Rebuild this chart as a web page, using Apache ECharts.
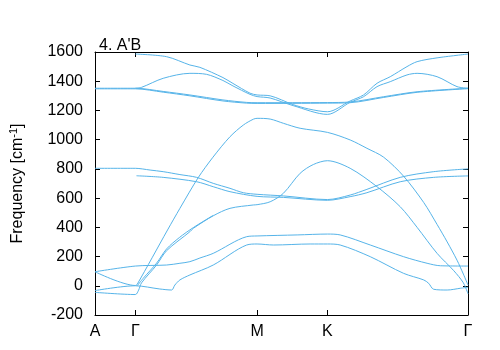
<!DOCTYPE html>
<html>
<head>
<meta charset="utf-8">
<script src="https://cdn.jsdelivr.net/npm/echarts@6/dist/echarts.min.js"></script>
<style>html,body{margin:0;padding:0;background:#fff}#c{width:500px;height:350px}</style>
</head>
<body>
<div id="c"></div>
<script>
// high-symmetry points along the path
const tickPos = [0, 0.287, 1.153, 1.653, 2.653];
const tickLabels = ['A', 'Γ', 'M', 'K', 'Γ'];
const yTicks = [-200, 1600, 200];

// bands: [path coordinate, frequency cm^-1]
const bandH1 = [[0.287,1586],[0.509,1568],[0.675,1511],[0.746,1495],[0.910,1425],[0.981,1385],[1.103,1318],[1.153,1306],[1.246,1300],[1.409,1240],[1.520,1210],[1.653,1191],[1.815,1265],[1.910,1306],[2.006,1386],[2.100,1431],[2.219,1500],[2.291,1534],[2.433,1560],[2.653,1586]];
const bandH2 = [[0.287,1352],[0.331,1358],[0.485,1420],[0.675,1454],[0.794,1447],[0.910,1405],[0.981,1368],[1.103,1310],[1.153,1295],[1.246,1285],[1.409,1233],[1.653,1173],[1.815,1256],[1.910,1294],[2.006,1363],[2.100,1397],[2.219,1443],[2.291,1454],[2.433,1431],[2.575,1363],[2.653,1352]];
const bandH3 = [[0,1352],[0.287,1352],[0.485,1330],[0.675,1306],[0.910,1272],[1.079,1255],[1.153,1253],[1.653,1254],[1.815,1258],[2.053,1294],[2.291,1328],[2.653,1352]];
const bandH4 = [[0,1348],[0.287,1348],[0.485,1325],[0.675,1300],[0.910,1265],[1.079,1250],[1.153,1248],[1.653,1250],[1.815,1253],[2.053,1289],[2.291,1324],[2.653,1349]];
const bandM1 = [[0,804],[0.287,804],[0.392,792],[0.485,781],[0.604,761],[0.723,742],[0.841,701],[0.960,667],[1.055,637],[1.153,626],[1.340,615],[1.653,590],[1.815,621],[1.934,660],[2.171,742],[2.409,781],[2.653,800]];
const bandM2 = [[0.295,753],[0.485,742],[0.723,712],[0.841,678],[0.960,644],[1.153,612],[1.340,605],[1.653,585],[1.815,610],[1.934,637],[2.171,712],[2.409,742],[2.653,752]];
const bandL1 = [[0,96],[0.287,2],[0.300,10],[0.516,382],[0.604,530],[0.734,740],[0.839,880],[0.960,1020],[1.055,1100],[1.126,1140],[1.153,1146],[1.246,1141],[1.340,1112],[1.459,1078],[1.653,1050],[1.815,998],[1.934,941],[2.053,880],[2.195,750],[2.338,570],[2.433,420],[2.505,300],[2.575,175],[2.620,80],[2.653,5]];
const bandL2 = [[0,-45],[0.287,-60],[0.310,-30],[0.331,20],[0.438,142],[0.509,240],[0.675,370],[0.699,393],[0.841,479],[0.960,530],[1.126,553],[1.153,555],[1.246,575],[1.340,633],[1.459,770],[1.553,830],[1.653,856],[1.815,804],[2.006,678],[2.171,541],[2.291,400],[2.433,222],[2.552,103],[2.620,20],[2.653,-55]];
const bandL2b = [[0.300,0],[0.342,50],[0.438,155],[0.509,252],[0.600,330],[0.699,398],[0.841,482]];
const bandL3 = [[0,96],[0.287,135],[0.509,142],[0.604,154],[0.675,165],[0.746,190],[0.841,222],[1.079,336],[1.153,341],[1.438,348],[1.653,354],[1.744,348],[1.958,279],[2.195,199],[2.362,154],[2.457,137],[2.653,135]];
const bandL4 = [[0,-33],[0.287,0],[0.461,-22],[0.545,-29],[0.568,5],[0.604,40],[0.675,74],[0.841,142],[1.079,279],[1.153,286],[1.270,279],[1.530,286],[1.653,286],[1.744,279],[1.958,199],[2.195,85],[2.338,40],[2.373,17],[2.409,-24],[2.505,-29],[2.599,-17],[2.653,-10]];

const bands = [bandH1, bandH2, bandH3, bandH4, bandM1, bandM2, bandL1, bandL2, bandL2b, bandL3, bandL4];

const FONT = 'Liberation Sans, Arial, sans-serif';
const chart = echarts.init(document.getElementById('c'), null, {renderer: 'canvas'});
const xBase = {
  type: 'value', min: tickPos[0], max: tickPos[tickPos.length - 1],
  splitLine: {show: false},
  axisLine: {show: true, onZero: false, lineStyle: {color: '#000', width: 1}},
  axisTick: {show: true, inside: true, length: 5, customValues: tickPos, lineStyle: {color: '#000'}}
};
const yBase = {
  type: 'value', min: yTicks[0], max: yTicks[1], interval: yTicks[2],
  splitLine: {show: false},
  axisLine: {show: true, onZero: false, lineStyle: {color: '#000', width: 1}},
  axisTick: {show: true, inside: true, length: 5, lineStyle: {color: '#000'}}
};
chart.setOption({
  animation: false,
  backgroundColor: '#fff',
  title: {text: "4. A'B", left: 94, top: 33, textStyle: {fontFamily: FONT, fontSize: 16, fontWeight: 'normal', color: '#000'}},
  grid: {left: 95, right: 32, top: 52, bottom: 35},
  xAxis: [
    Object.assign({}, xBase, {position: 'bottom',
      axisLabel: {show: true, customValues: tickPos, margin: 9, fontFamily: FONT, fontSize: 16, color: '#000',
        formatter: function (v) {
          let best = 0;
          for (let i = 0; i < tickPos.length; i++) if (Math.abs(tickPos[i] - v) < Math.abs(tickPos[best] - v)) best = i;
          return tickLabels[best];
        }}}),
    Object.assign({}, xBase, {position: 'top', axisLabel: {show: false}})
  ],
  yAxis: [
    Object.assign({}, yBase, {position: 'left',
      axisLabel: {fontFamily: FONT, fontSize: 16, color: '#000', margin: 12, formatter: function (v) { return String(v); }},
      name: '{a|Frequency [cm}{s|-1}{a|]}', nameLocation: 'middle', nameRotate: 90, nameGap: 68,
      nameTextStyle: {rich: {a: {fontFamily: FONT, fontSize: 16, color: '#000'}, s: {fontFamily: FONT, fontSize: 11, color: '#000', verticalAlign: 'top', padding: [0, 0, 8, 0]}}}}),
    Object.assign({}, yBase, {position: 'right', axisLabel: {show: false}})
  ],
  series: bands.map(function (b) {
    return {type: 'line', data: b, xAxisIndex: 0, yAxisIndex: 0, showSymbol: false, symbol: 'none',
      smooth: 0.3, lineStyle: {color: '#56B4E9', width: 1}, silent: true};
  })
});
</script>
</body>
</html>
